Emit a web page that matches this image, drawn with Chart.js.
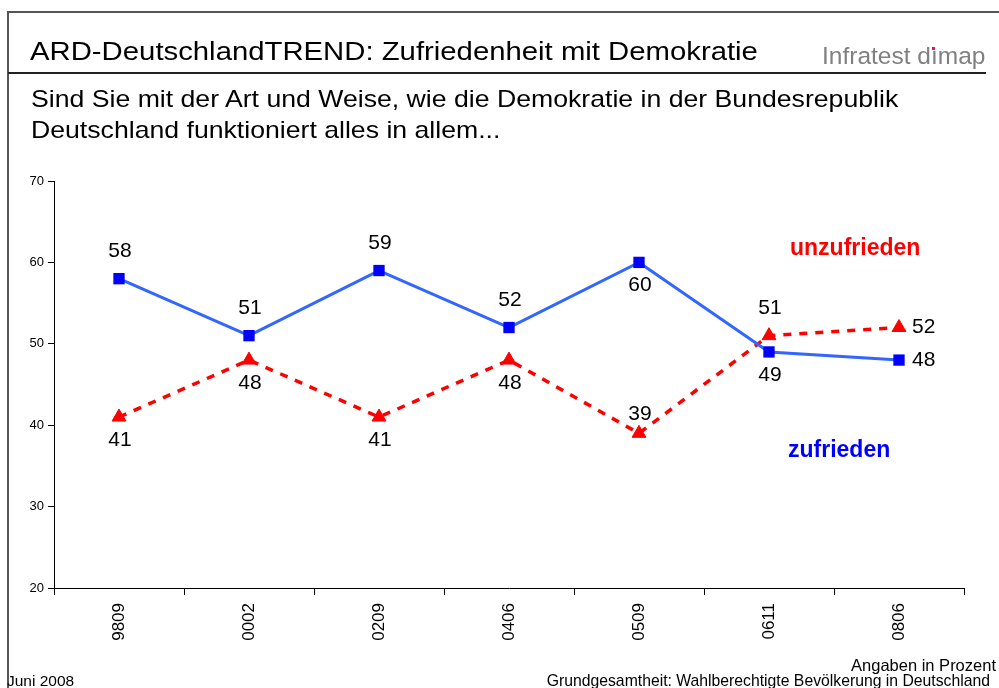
<!doctype html>
<html><head><meta charset="utf-8"><title>Zufriedenheit mit Demokratie</title>
<script src="https://cdn.jsdelivr.net/npm/chart.js"></script>
<style>
  html, body { margin: 0; padding: 0; background: #fff; }
  body { width: 999px; height: 688px; position: relative; overflow: hidden; font-family: "Liberation Sans", Arial, sans-serif; }
  #c { position: absolute; left: 0; top: 0; }
  .t { position: absolute; white-space: nowrap; color: #000; }
  .wide { transform-origin: 0 0; }
  .dot { position: relative; }
  .dot i { position: absolute; left: 1.5px; top: 5px; width: 2.6px; height: 3px; background: #d81b60; }
</style>
</head><body>
<canvas id="c" width="999" height="688"></canvas>
<div style="position:absolute;left:8px;top:11px;width:991px;height:2px;background:#555"></div>
<div style="position:absolute;left:7px;top:11px;width:2px;height:677px;background:#555"></div>
<div style="position:absolute;left:8px;top:72px;width:978px;height:2px;background:#222"></div>
<div class="t wide" style="left:30px;top:36px;font-size:26px;transform:scaleX(1.127)">ARD-DeutschlandTREND: Zufriedenheit mit Demokratie</div>
<div class="t" style="left:822px;top:42px;font-size:24.5px;color:#808080">Infratest d<span class="dot">ı<i></i></span>map</div>
<div class="t wide" style="left:31px;top:83px;font-size:24px;line-height:31px;transform:scaleX(1.11)">Sind Sie mit der Art und Weise, wie die Demokratie in der Bundesrepublik<br>Deutschland funktioniert alles in allem...</div>
<div class="t" style="left:790px;top:234px;font-size:23px;font-weight:bold;color:#ff0000">unzufrieden</div>
<div class="t" style="left:788px;top:436px;font-size:23px;font-weight:bold;color:#0000ff">zufrieden</div>
<div class="t" style="right:3px;top:656px;font-size:16.5px">Angaben in Prozent</div>
<div class="t" style="right:9px;top:672px;font-size:15.75px">Grundgesamtheit: Wahlberechtigte Bevölkerung in Deutschland</div>
<div class="t" style="left:7px;top:672px;font-size:15.5px">Juni 2008</div>
<script>
const labels = ['9809', '0002', '0209', '0406', '0509', '0611', '0806'];
const zufrieden = [58, 51, 59, 52, 60, 49, 48];
const unzufrieden = [41, 48, 41, 48, 39, 51, 52];
// where each value label sits relative to its point
const zufriedenLabelPos = ['above', 'above', 'above', 'above', 'below', 'below', 'right'];
const unzufriedenLabelPos = ['below', 'below', 'below', 'below', 'near', 'above', 'right'];
const yTicks = [20, 30, 40, 50, 60, 70];

const labelOffset = { above: -27, near: -19, below: 23 };

const valueLabels = {
  id: 'valueLabels',
  afterDatasetsDraw(chart) {
    const ctx = chart.ctx;
    ctx.save();
    ctx.font = '21px "Liberation Sans", Arial, sans-serif';
    ctx.fillStyle = '#000';
    ctx.textBaseline = 'middle';
    chart.data.datasets.forEach((ds, i) => {
      const meta = chart.getDatasetMeta(i);
      meta.data.forEach((pt, j) => {
        const pos = ds.labelPos[j];
        let x = pt.x + 1, y = pt.y;
        ctx.textAlign = 'center';
        if (pos === 'right') { ctx.textAlign = 'left'; x = pt.x + 13; }
        else y += labelOffset[pos];
        ctx.fillText(String(ds.data[j]), x, y);
      });
    });
    ctx.restore();
  }
};

new Chart(document.getElementById('c'), {
  type: 'line',
  data: {
    labels,
    datasets: [
      {
        label: 'zufrieden', data: zufrieden, labelPos: zufriedenLabelPos,
        borderColor: '#3366ff', borderWidth: 3,
        pointStyle: 'rect', pointRadius: 8, pointBackgroundColor: '#0000ff', pointBorderColor: '#0000ff', pointBorderWidth: 0,
        tension: 0
      },
      {
        label: 'unzufrieden', data: unzufrieden, labelPos: unzufriedenLabelPos,
        borderColor: '#ff0000', borderWidth: 3.5, borderDash: [8, 8],
        pointStyle: 'triangle', pointRadius: 8, pointBackgroundColor: '#ff0000', pointBorderColor: '#ff0000', pointBorderWidth: 1,
        tension: 0
      }
    ]
  },
  options: {
    responsive: false,
    animation: false,
    layout: { padding: { left: 0, right: 35, top: 181, bottom: 0 } },
    plugins: { legend: { display: false }, tooltip: { enabled: false } },
    scales: {
      x: {
        offset: true,
        grid: { offset: true, drawOnChartArea: false, tickLength: 7, color: '#000' },
        border: { color: '#000', width: 1 },
        ticks: {
          autoSkip: false, minRotation: 90, maxRotation: 90, padding: 8,
          color: '#000', font: { family: '"Liberation Sans", Arial, sans-serif', size: 17 }
        },
        afterFit(s) { s.height = 100; }
      },
      y: {
        min: 20, max: 70,
        afterBuildTicks(s) { s.ticks = yTicks.map(v => ({ value: v })); },
        grid: { drawOnChartArea: false, tickLength: 6, color: '#000' },
        border: { color: '#000', width: 1 },
        ticks: { color: '#000', padding: 4, font: { family: '"Liberation Sans", Arial, sans-serif', size: 13 } },
        afterFit(s) { s.width = 54; }
      }
    }
  },
  plugins: [valueLabels]
});
</script>
</body></html>
